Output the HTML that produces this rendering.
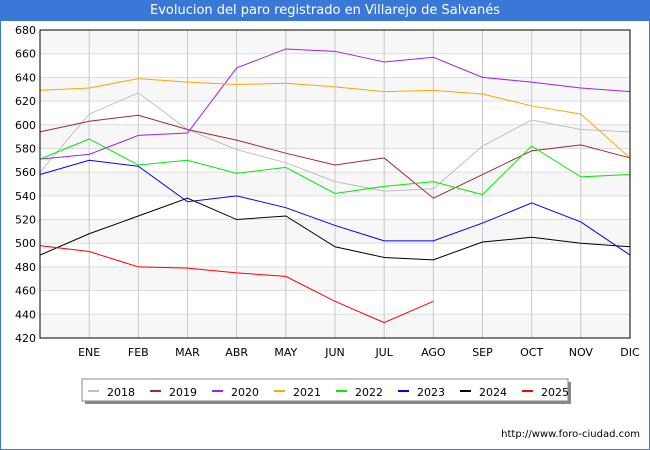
<!DOCTYPE html>
<html><head><meta charset="utf-8"><style>
body{margin:0;background:#fff;font-family:"DejaVu Sans","Liberation Sans",sans-serif;}
#wrap{position:relative;width:648px;height:448px;border:1px solid #3a78d8;overflow:hidden;}
#title{position:absolute;left:0;top:0;width:648px;height:20px;background:#3a78d8;color:#fff;font-size:13px;text-align:center;line-height:20px;}
svg text{font-family:"DejaVu Sans","Liberation Sans",sans-serif;font-size:11px;}
</style></head><body>
<div id="wrap">
<div id="title">Evolucion del paro registrado en Villarejo de Salvanés</div>
<svg id="chart" width="650" height="450" style="position:absolute;left:-1px;top:-1px"></svg>
</div>
<script>
const months=["","ENE","FEB","MAR","ABR","MAY","JUN","JUL","AGO","SEP","OCT","NOV","DIC"];
const yTicks=[420,440,460,480,500,520,540,560,580,600,620,640,660,680];
const years=["2018","2019","2020","2021","2022","2023","2024","2025"];
const colors=["#c0c0c0","#a52a2a","#a020f0","#ffa500","#00ee00","#0000ff","#000000","#ff0000"];
const s2018=[560,609,627,596,579,568,552,544,546,582,604,596,594];
const s2019=[594,603,608,596,587,576,566,572,538,558,578,583,572];
const s2020=[571,575,591,593,648,664,662,653,657,640,636,631,628];
const s2021=[629,631,639,636,634,635,632,628,629,626,616,609,572];
const s2022=[571,588,566,570,559,564,542,548,552,541,582,556,558];
const s2023=[558,570,565,535,540,530,515,502,502,517,534,518,490];
const s2024=[490,508,523,538,520,523,497,488,486,501,505,500,497];
const s2025=[498,493,480,479,475,472,451,433,451];
const series=[s2018,s2019,s2020,s2021,s2022,s2023,s2024,s2025];
const NS="http://www.w3.org/2000/svg";
const svg=document.getElementById('chart');
const L=40,R=630,T=30,B=338,ymin=420,ymax=680;
const x=i=>L+(R-L)*i/12;
const y=v=>B-(v-ymin)/(ymax-ymin)*(B-T);
function mk(tag,attrs,parent){const e=document.createElementNS(NS,tag);for(const k in attrs)e.setAttribute(k,attrs[k]);(parent||svg).appendChild(e);return e;}
for(let i=0;i<yTicks.length-1;i++){
 const b=mk('rect',{x:L,y:y(yTicks[i+1]),width:R-L,height:y(yTicks[i])-y(yTicks[i+1]),fill:(i%2==0)?'#f7f7f7':'#ffffff'});
 
 
}
yTicks.forEach(v=>{
 const g=mk('line',{x1:L,x2:R,y1:y(v),y2:y(v),stroke:'#dddddd','stroke-width':1});
 
 
 const t=mk('text',{x:L-4,y:y(v)+4,'text-anchor':'end',fill:'#000'});
 t.textContent=v;
 
 
});
months.forEach((m,i)=>{
 if(i==0)return;
 const g=mk('line',{x1:x(i),x2:x(i),y1:T,y2:B,stroke:'#c8c8c8','stroke-width':1});
 
 
 const t=mk('text',{x:x(i),y:356,'text-anchor':'middle',fill:'#000'});
 t.textContent=m;
 
 
});
series.forEach((s,k)=>{
 const p=mk('polyline',{points:s.map((v,i)=>x(i)+','+y(v)).join(' '),fill:'none',stroke:colors[k],'stroke-width':1});
 
 
});
const fr=mk('rect',{x:L,y:T,width:R-L,height:B-T,fill:'none',stroke:'#000','stroke-width':1});


const lg=mk('g',{});


mk('rect',{x:85,y:382,width:486,height:22,fill:'#888'},lg);
mk('rect',{x:82,y:379,width:486,height:22,fill:'#fff',stroke:'#888'},lg);
years.forEach((yr,k)=>{
 const gx=88+k*62;
 const it=mk('g',{},lg);
 
 
 mk('line',{x1:gx,x2:gx+11,y1:391,y2:391,stroke:colors[k],'stroke-width':2},it);
 const t=mk('text',{x:gx+19,y:396,fill:'#000'},it);
 t.textContent=yr;
});
const u=mk('text',{x:640,y:437,'text-anchor':'end',fill:'#000',style:'font-size:10px'});
u.textContent='http://www.foro-ciudad.com';


</script>
</body></html>
